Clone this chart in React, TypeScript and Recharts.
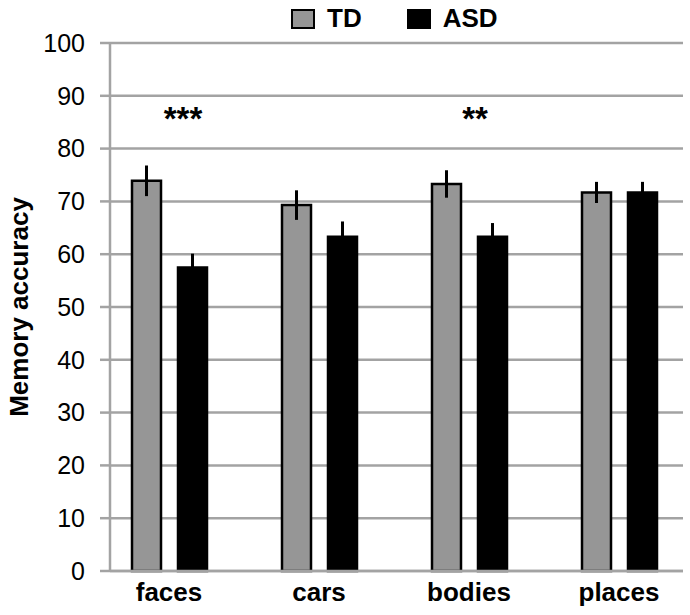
import React from "react";
import {
  Bar,
  BarChart,
  CartesianGrid,
  ErrorBar,
  Label,
  ReferenceDot,
  XAxis,
  YAxis,
} from "recharts";

const FONT = '"Liberation Sans", Arial, sans-serif';
const GRID = "#a3a3a3";
const TD_FILL = "#969696";

// values
const categories = ["faces", "cars", "bodies", "places"];
const tdMeans = [73.9, 69.3, 73.3, 71.7];
const tdErrors = [2.9, 2.8, 2.6, 2.0];
const asdMeans = [57.5, 63.3, 63.3, 71.7];
const asdErrors = [2.6, 2.9, 2.6, 2.0];
const yTicks = [0, 10, 20, 30, 40, 50, 60, 70, 80, 90, 100];

const sigCategories = ["faces", "bodies"];
const sigMarks = ["***", "**"];
const sigLevel = 85.8;

const seriesNames = ["TD", "ASD"];
const seriesFills = [TD_FILL, "#000"];

const data = categories.map((c, i) => ({
  name: c,
  TD: tdMeans[i],
  tdErr: tdErrors[i],
  ASD: asdMeans[i],
  asdErr: asdErrors[i],
}));

// legend sits above the plot, outside the chart's own layout
function LegendBoxes() {
  return (
    <div
      style={{
        position: "absolute",
        top: 3,
        left: 291,
        display: "flex",
        alignItems: "center",
        fontFamily: FONT,
      }}
    >
      {seriesNames.map((name, i) => (
        <div key={name} style={{ display: "flex", alignItems: "center", marginRight: 45 }}>
          <span
            style={{
              display: "inline-block",
              width: 20,
              height: 16,
              background: seriesFills[i],
              border: "2.5px solid #000",
              marginRight: 12,
            }}
          />
          <span style={{ fontSize: 26, fontWeight: "bold", color: "#000" }}>{name}</span>
        </div>
      ))}
    </div>
  );
}

export default function App() {
  return (
    <div style={{ position: "absolute", left: 0, top: 0, width: 690, height: 615, background: "#fff" }}>
      <BarChart
        width={690}
        height={615}
        data={data}
        margin={{ top: 43, right: 7, bottom: 0, left: 0 }}
        barSize={29}
        barGap={17}
      >
        <CartesianGrid horizontal vertical={false} stroke={GRID} strokeWidth={2.5} />
        <XAxis
          dataKey="name"
          height={44}
          padding={{ left: -16, right: -11 }}
          axisLine={{ stroke: GRID, strokeWidth: 2.5 }}
          tickLine={false}
          tickSize={0}
          tickMargin={12}
          tick={{ fill: "#000", fontSize: 26, fontWeight: "bold", fontFamily: FONT }}
        />
        <YAxis
          width={110}
          domain={[0, 100]}
          ticks={yTicks}
          interval={0}
          axisLine={{ stroke: GRID, strokeWidth: 2.5 }}
          tickLine={{ stroke: GRID, strokeWidth: 2.5 }}
          tickSize={10}
          tickMargin={15}
          tick={{ fill: "#000", fontSize: 25, fontFamily: FONT }}
        >
          <Label
            content={(props: any) => {
              const vb = props.viewBox || {};
              const cx = 19;
              const cy = (vb.y ?? 43) + (vb.height ?? 528) / 2;
              return (
                <text
                  x={cx}
                  y={cy}
                  transform={`rotate(-90 ${cx} ${cy})`}
                  textAnchor="middle"
                  dominantBaseline="central"
                  fontFamily={FONT}
                  fontSize={26}
                  fontWeight="bold"
                  fill="#000"
                >
                  Memory accuracy
                </text>
              );
            }}
          />
        </YAxis>
        <Bar dataKey="TD" fill={TD_FILL} stroke="#000" strokeWidth={2.5} isAnimationActive={false}>
          <ErrorBar dataKey="tdErr" width={0} stroke="#000" strokeWidth={3} isAnimationActive={false} />
        </Bar>
        <Bar dataKey="ASD" fill="#000" stroke="#000" strokeWidth={2.5} isAnimationActive={false}>
          <ErrorBar dataKey="asdErr" width={0} stroke="#000" strokeWidth={3} isAnimationActive={false} />
        </Bar>
        {sigCategories.map((c, i) => (
          <ReferenceDot
            key={c}
            x={c}
            y={sigLevel}
            r={0}
            ifOverflow="visible"
            label={{
              value: sigMarks[i],
              position: "center",
              dx: i === 0 ? 14 : 6,
              fill: "#000",
              fontSize: 33,
              fontWeight: "bold",
              fontFamily: FONT,
            }}
          />
        ))}
      </BarChart>
      <LegendBoxes />
    </div>
  );
}
